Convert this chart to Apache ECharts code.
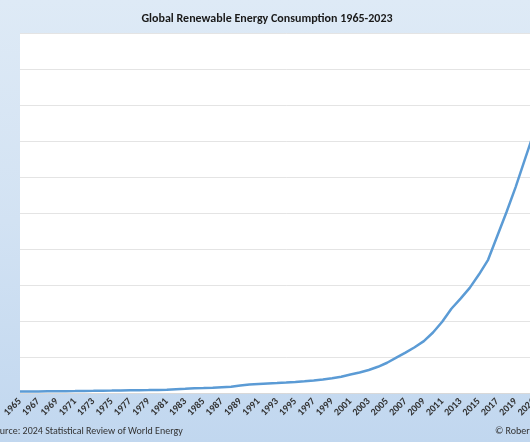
<!DOCTYPE html>
<html>
<head>
<meta charset="utf-8">
<script src="https://cdn.jsdelivr.net/npm/echarts@6/dist/echarts.min.js"></script>
<style>
html,body{margin:0;padding:0;background:#fff;overflow:hidden;width:530px;height:442px;}
#chart{width:558px;height:442px;}
</style>
</head>
<body>
<div id="chart"></div>
<script>
const years = [];
for (let y = 1965; y <= 2023; y++) years.push(String(y));

const consumption = [
  0.20, 0.21, 0.22, 0.23, 0.24, 0.26, 0.27, 0.29, 0.30, 0.32,
  0.33, 0.35, 0.37, 0.39, 0.40, 0.42, 0.46, 0.52, 0.58, 0.65,
  0.68, 0.72, 0.80, 0.88, 1.05, 1.18, 1.25, 1.32, 1.38, 1.45,
  1.53, 1.63, 1.75, 1.88, 2.05, 2.26, 2.57, 2.85, 3.20, 3.64,
  4.20, 4.90, 5.60, 6.35, 7.20, 8.40, 9.90, 11.70, 13.10, 14.60,
  16.45, 18.50, 21.80, 25.10, 28.60, 32.40, 36.20, 40.30, 45.00
];

const titleText = 'Global Renewable Energy Consumption 1965-2023';
const sourceText = 'Source: 2024 Statistical Review of World Energy';
const creditText = '© Robert Rapier';

const chart = echarts.init(document.getElementById('chart'));
chart.setOption({
  animation: false,
  backgroundColor: {
    type: 'linear', x: 0, y: 0, x2: 0, y2: 1,
    colorStops: [
      { offset: 0, color: '#deeaf6' },
      { offset: 0.5, color: '#d2e2f3' },
      { offset: 1, color: '#c1d7ef' }
    ]
  },
  title: {
    text: titleText,
    left: 262,
    textAlign: 'center',
    top: 8,
    textStyle: { fontFamily: 'Carlito, "Liberation Sans"', fontSize: 12, fontWeight: 'bold', color: '#1a1a1a' }
  },
  graphic: [
    { type: 'text', left: -10, top: 426,
      style: { text: sourceText, font: '10px Carlito, "Liberation Sans"', fill: '#333' } },
    { type: 'text', left: 495, top: 426,
      style: { text: creditText, font: '10px Carlito, "Liberation Sans"', fill: '#333' } }
  ],
  grid: {
    left: 3, top: 33, right: 0, bottom: 49,
    show: true, backgroundColor: '#ffffff', borderWidth: 0,
    containLabel: false
  },
  xAxis: {
    type: 'category',
    data: years,
    boundaryGap: false,
    axisLine: { show: true, lineStyle: { color: '#d9d9d9', width: 1 } },
    axisTick: { show: false },
    axisLabel: {
      interval: 1, rotate: 45, margin: 7,
      fontFamily: 'Carlito, "Liberation Sans"', fontSize: 10, fontWeight: 'bold', color: '#333'
    },
    splitLine: { show: false }
  },
  yAxis: {
    type: 'value',
    min: 0, max: 50, interval: 5,
    axisLabel: { show: false },
    axisLine: { show: false },
    axisTick: { show: false },
    splitLine: { show: true, lineStyle: { color: '#e4e4e4', width: 1 } }
  },
  series: [{
    type: 'line',
    data: consumption,
    showSymbol: false,
    smooth: false,
    lineStyle: { color: '#5b9bd5', width: 2.5 },
    itemStyle: { color: '#5b9bd5' }
  }]
});
</script>
</body>
</html>
